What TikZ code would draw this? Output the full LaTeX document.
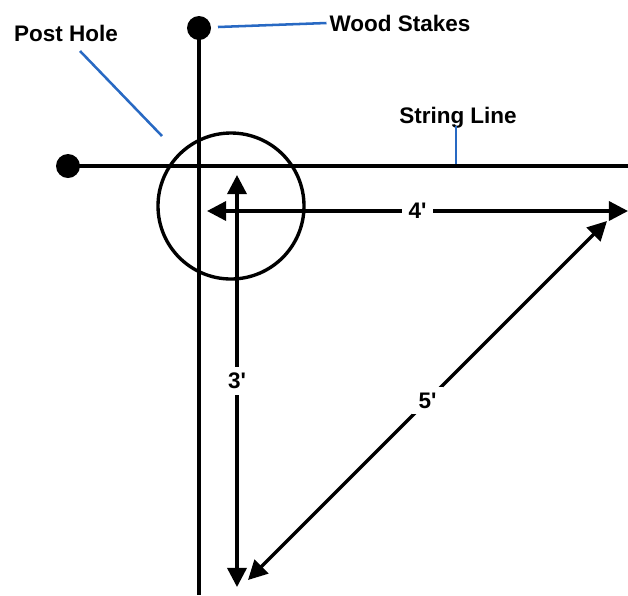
\documentclass[tikz,border=0pt]{standalone}
\usepackage{fontspec}
\setmainfont{Liberation Sans}
\usetikzlibrary{arrows.meta}

\definecolor{leaderblue}{RGB}{40,105,195}

\begin{document}
\begin{tikzpicture}[x=0.025cm, y=-0.025cm, >={Triangle[length=4.8mm,width=4.8mm]}, line width=2.4pt,
    lbl/.style={font=\fontsize{16}{19}\selectfont\bfseries, inner sep=1pt},
    gap/.style={lbl, fill=white, inner xsep=5pt, inner ysep=4pt},
    leader/.style={leaderblue, line width=1.8pt}]
    \useasboundingbox (0,0) rectangle (628,595);

    % 木桩和拉线
    \coordinate (stakeT) at (199,28);
    \coordinate (stakeL) at (68,166);
    \coordinate (lineB) at (199,595);
    \coordinate (lineR) at (628,166);
    \draw (stakeT) -- (lineB);
    \draw (stakeL) -- (lineR);
    \fill (stakeT) circle (12);
    \fill (stakeL) circle (12);

    % 柱坑
    \coordinate (hole) at (231,206);
    \draw (hole) circle (73);

    % 3-4-5 尺寸
    \coordinate (O3) at (237,175);
    \coordinate (E3) at (237,587);
    \coordinate (O4) at (207,211);
    \coordinate (E4) at (628,211);
    \coordinate (O5) at (607,221);
    \coordinate (E5) at (248,580);
    \draw[<->] (O3) -- node[gap] (len3) {3\textquotesingle} (E3);
    \draw[<->] (O4) -- node[gap] (len4) {4\textquotesingle} (E4);
    \draw[<->] (O5) -- node[gap] (len5) {5\textquotesingle} (E5);

    % 标注
    \node[lbl] (postHole) at (66,33) {Post Hole};
    \node[lbl] (woodStakes) at (400,23) {Wood Stakes};
    \node[lbl] (stringLine) at (458,118) {String Line};
    \coordinate (phEnd) at (162,136);
    \coordinate (wsEnd) at (218,27);
    \coordinate (slEnd) at (456,164);
    \draw[leader] (80,51) -- (phEnd);
    \draw[leader] (woodStakes.west) -- (wsEnd);
    \draw[leader] (stringLine.south -| slEnd) ++(0,-6) -- (slEnd);
\end{tikzpicture}
\end{document}
